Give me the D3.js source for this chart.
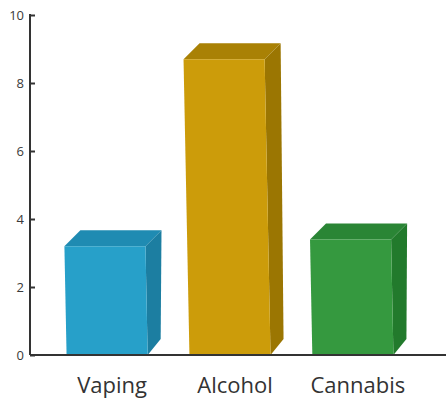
<!DOCTYPE html>
<html><head><meta charset="utf-8">
<script src="https://cdn.jsdelivr.net/npm/d3@7/dist/d3.min.js"></script>
<style>html,body{margin:0;padding:0;background:#fff;}svg{display:block;}</style>
</head><body>
<script>
const categories = ["Vaping", "Alcohol", "Cannabis"];
const values = [3.2, 8.7, 3.4];
const yTicks = [0, 2, 4, 6, 8, 10];
const frontColors = ["#27a0c9", "#cc9c0a", "#35993f"];
const topColors = ["#1f8bb2", "#a98105", "#2a8535"];
const sideColors = ["#1c7ea1", "#9b7602", "#227a2c"];

const W = 446, H = 400;
const svg = d3.select("body").append("svg").attr("width", W).attr("height", H);

const y = d3.scaleLinear().domain([0, 10]).range([355, 15]);
const x = d3.scaleBand().domain(categories).range([42, 418]).paddingInner(0.34).paddingOuter(0.2);

const dx = 16, dy = -16, skew = 0.02;
const base = y(0);

const g = svg.append("g");
categories.forEach((c, i) => {
  const xl = x(c), xr = xl + x.bandwidth();
  const yt = y(values[i]);
  const h = base - yt;
  const s = skew * h;
  const tl = [xl - s, yt], tr = [xr - s, yt], bl = [xl, base], br = [xr, base];
  g.append("path").attr("fill", sideColors[i])
    .attr("d", d3.line()([tr, [tr[0] + dx, yt + dy], [br[0] + dx - 3, base + dy], br]));
  g.append("path").attr("fill", topColors[i])
    .attr("d", d3.line()([tl, tr, [tr[0] + dx, yt + dy], [tl[0] + dx, yt + dy]]));
  g.append("path").attr("fill", frontColors[i])
    .attr("d", d3.line()([tl, tr, br, bl]));
});

const yAxis = svg.append("g").attr("transform", "translate(30,0)")
  .call(d3.axisRight(y).tickValues(yTicks).tickSize(5).tickFormat(d3.format("d")));
yAxis.select(".domain").attr("stroke", "#333").attr("stroke-width", 2).attr("d", "M0,14V355");
yAxis.selectAll(".tick line").attr("stroke", "#333").attr("stroke-width", 2);
yAxis.selectAll(".tick text").attr("x", -6).attr("text-anchor", "end")
  .attr("fill", "#3a3a3a").style("font-family", "'Open Sans', sans-serif").style("font-size", "13px");

const xAxis = svg.append("g").attr("transform", `translate(0,${base})`)
  .call(d3.axisBottom(x).tickSize(0).tickPadding(22));
xAxis.select(".domain").attr("stroke", "#333").attr("stroke-width", 2).attr("d", "M30,0H446");
xAxis.selectAll(".tick text").attr("dx", 5).attr("dy", "0.71em")
  .attr("fill", "#333").style("font-family", "'Open Sans', sans-serif").style("font-size", "22px");
</script>
</body></html>
